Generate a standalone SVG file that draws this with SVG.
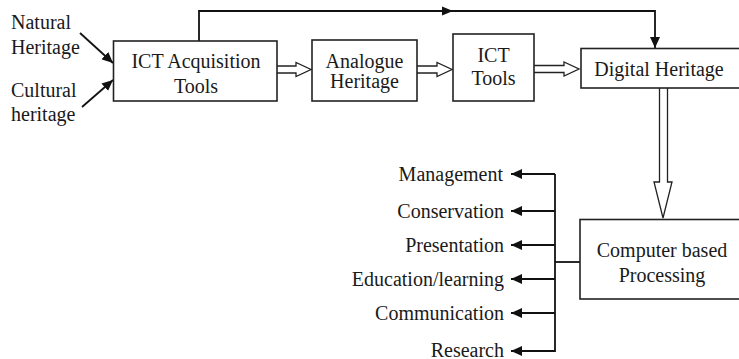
<svg xmlns="http://www.w3.org/2000/svg" width="739" height="359" viewBox="0 0 739 359" font-family="Liberation Serif, DejaVu Serif, serif" font-size="20">
<defs>
<style>
.box{fill:#fff;stroke:#222;stroke-width:1.6}
text{fill:#1a1a1a}
.c{text-anchor:middle}
.e{text-anchor:end}
.ln{fill:none;stroke:#111;stroke-width:1.8}
.hol{fill:#fff;stroke:#222;stroke-width:1.3;stroke-linejoin:miter}
</style>
<marker id="ah" markerUnits="userSpaceOnUse" markerWidth="12" markerHeight="10" refX="11" refY="5" orient="auto">
<path d="M0,0 L11,5 L0,10 Z" fill="#111"/>
</marker>
</defs>
<rect width="739" height="359" fill="#fff"/>

<g id="connectors">
<line class="ln" x1="80" y1="33" x2="113" y2="63" marker-end="url(#ah)"/>
<line class="ln" x1="82" y1="107" x2="113" y2="80" marker-end="url(#ah)"/>
<polyline class="ln" points="199,41 199,11 655,11 655,48" marker-end="url(#ah)"/>
<path d="M442,6.5 L453,11 L442,15.5 Z" fill="#111"/>
<path class="hol" d="M277,66 H296 V62.5 L311,69.5 L296,76.5 V73 H277"/>
<path class="hol" d="M417,66 H437 V62.5 L452,69.5 L437,76.5 V73 H417"/>
<path class="hol" d="M534,65.5 H564 V62 L579,69 L564,76 V72.5 H534"/>
<path class="hol" d="M659.5,88 V182 H654 L663,218 L672,182 H667.5 V88"/>
<line class="ln" x1="555" y1="174" x2="555" y2="352"/>
<line class="ln" x1="555" y1="262" x2="580" y2="262"/>
<line class="ln" x1="555" y1="174" x2="511" y2="174" marker-end="url(#ah)"/>
<line class="ln" x1="555" y1="211" x2="511" y2="211" marker-end="url(#ah)"/>
<line class="ln" x1="555" y1="245" x2="511" y2="245" marker-end="url(#ah)"/>
<line class="ln" x1="555" y1="279" x2="511" y2="279" marker-end="url(#ah)"/>
<line class="ln" x1="555" y1="313" x2="511" y2="313" marker-end="url(#ah)"/>
<line class="ln" x1="555" y1="351" x2="511" y2="351" marker-end="url(#ah)"/>
</g>

<g id="natural">
<text x="11" y="29">Natural</text>
<text x="11" y="54">Heritage</text>
</g>
<g id="cultural">
<text x="11" y="97">Cultural</text>
<text x="11" y="121">heritage</text>
</g>
<g id="ict-acq">
<rect class="box" x="113.5" y="41" width="163.5" height="60"/>
<text class="c" x="196" y="68">ICT Acquisition</text>
<text class="c" x="196" y="93">Tools</text>
</g>
<g id="analogue">
<rect class="box" x="312" y="40" width="105" height="61"/>
<text class="c" x="364.5" y="67.5">Analogue</text>
<text class="c" x="364.5" y="87.5">Heritage</text>
</g>
<g id="ict-tools">
<rect class="box" x="453" y="34" width="81" height="67"/>
<text class="c" x="493.5" y="62">ICT</text>
<text class="c" x="493.5" y="85">Tools</text>
</g>
<g id="digital">
<rect class="box" x="581" y="48.5" width="170" height="39.5"/>
<text class="c" x="659" y="76">Digital Heritage</text>
</g>
<g id="computer">
<rect class="box" x="580" y="219.5" width="170" height="79.5"/>
<text class="c" x="662" y="257">Computer based</text>
<text class="c" x="662" y="282">Processing</text>
</g>
<g id="outputs">
<text class="e" x="503" y="181">Management</text>
<text class="e" x="504" y="217.5">Conservation</text>
<text class="e" x="504" y="251.5">Presentation</text>
<text class="e" x="504" y="285.5">Education/learning</text>
<text class="e" x="504" y="319.5">Communication</text>
<text class="e" x="504" y="356.5">Research</text>
</g>
</svg>
